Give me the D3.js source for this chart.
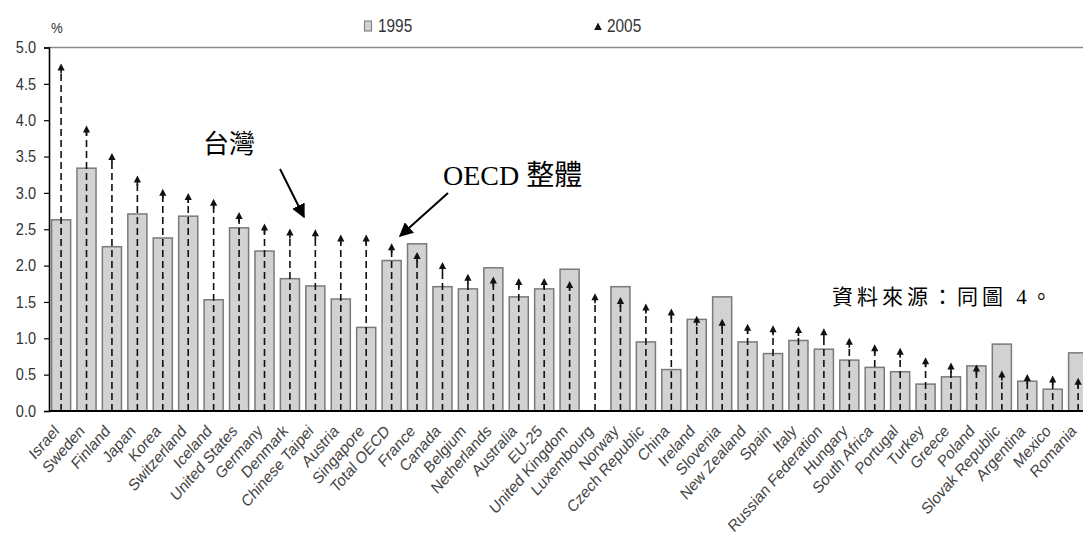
<!DOCTYPE html>
<html>
<head>
<meta charset="utf-8">
<script src="https://cdn.jsdelivr.net/npm/d3@7"></script>
<style>
  html, body { margin: 0; padding: 0; background: #fff; }
  svg { display: block; }
</style>
</head>
<body>
<svg id="chart" width="1083" height="552"></svg>
<script>
// GERD as a percentage of GDP, 1995 vs 2005
const countries = ["Israel","Sweden","Finland","Japan","Korea","Switzerland","Iceland","United States","Germany","Denmark","Chinese Taipei","Austria","Singapore","Total OECD","France","Canada","Belgium","Netherlands","Australia","EU-25","United Kingdom","Luxembourg","Norway","Czech Republic","China","Ireland","Slovenia","New Zealand","Spain","Italy","Russian Federation","Hungary","South Africa","Portugal","Turkey","Greece","Poland","Slovak Republic","Argentina","Mexico","Romania"];
const values1995 = [2.63,3.34,2.26,2.71,2.38,2.68,1.53,2.52,2.20,1.82,1.72,1.54,1.15,2.07,2.30,1.71,1.68,1.97,1.57,1.68,1.95,null,1.71,0.95,0.57,1.26,1.57,0.95,0.79,0.97,0.85,0.70,0.60,0.54,0.37,0.47,0.62,0.92,0.41,0.30,0.80];
const values2005 = [4.71,3.86,3.48,3.17,2.99,2.93,2.85,2.67,2.51,2.44,2.43,2.36,2.36,2.24,2.12,1.98,1.82,1.78,1.76,1.76,1.72,1.55,1.50,1.41,1.34,1.24,1.20,1.13,1.11,1.10,1.07,0.94,0.85,0.80,0.67,0.60,0.57,0.49,0.44,0.42,0.39];
const yTicks = [0,0.5,1,1.5,2,2.5,3,3.5,4,4.5,5];
const legendLabels = ["1995", "2005"];

const svg = d3.select("#chart");
const plotLeft = 49, plotTop = 47.5, plotBottom = 411;
// chart text is set slightly condensed
const squeeze = 0.88;

const x = d3.scaleBand()
  .domain(countries)
  .range([48.5, 48.5 + countries.length * 25.42])
  .paddingInner(0.25)
  .paddingOuter(0.12);

const y = d3.scaleLinear().domain([0, 5]).range([plotBottom, plotTop]);

const sans = "Arial, 'Liberation Sans', sans-serif";
const serif = "'Times New Roman', 'Liberation Serif', 'Noto Sans CJK TC', serif";

// frame top line
svg.append("line")
  .attr("x1", plotLeft).attr("x2", 1083)
  .attr("y1", plotTop).attr("y2", plotTop)
  .attr("stroke", "#8a8a8a").attr("stroke-width", 1.5);

// 1995 bars
svg.append("g").selectAll("rect")
  .data(countries.map((c, i) => ({ c, v: values1995[i] })).filter(d => d.v != null))
  .join("rect")
  .attr("x", d => x(d.c))
  .attr("width", x.bandwidth())
  .attr("y", d => y(d.v))
  .attr("height", d => plotBottom - y(d.v))
  .attr("fill", "#d2d2d2")
  .attr("stroke", "#7a7a7a")
  .attr("stroke-width", 1.5);

// 2005 dashed stems with arrow markers
const g05 = svg.append("g");
const data05 = countries.map((c, i) => ({ c, v: values2005[i] }));
g05.selectAll("line")
  .data(data05)
  .join("line")
  .attr("x1", d => x(d.c) + x.bandwidth() / 2)
  .attr("x2", d => x(d.c) + x.bandwidth() / 2)
  .attr("y1", plotBottom)
  .attr("y2", d => y(d.v))
  .attr("stroke", "#111")
  .attr("stroke-width", 1.6)
  .attr("stroke-dasharray", "7,4");
g05.selectAll("path")
  .data(data05)
  .join("path")
  .attr("transform", d => `translate(${x(d.c) + x.bandwidth() / 2},${y(d.v)})`)
  .attr("d", "M0,-5 L3.6,2 L-3.6,2 Z M-0.8,2 L0.8,2 L0.8,5 L-0.8,5 Z")
  .attr("fill", "#111");

// y axis
const yAxis = d3.axisLeft(y).tickValues(yTicks).tickFormat(d3.format(".1f")).tickSize(5);
const ya = svg.append("g").attr("transform", `translate(${plotLeft},0)`).call(yAxis);
ya.select(".domain").attr("stroke", "#000").attr("stroke-width", 1.6);
ya.selectAll(".tick line").attr("stroke", "#000").attr("stroke-width", 1.2);
ya.selectAll(".tick text")
  .attr("font-family", sans).attr("font-size", 16.5).attr("fill", "#333")
  .attr("x", -13 / squeeze)
  .attr("transform", `scale(${squeeze},1)`);

// x axis
const xAxis = d3.axisBottom(x).tickSize(0);
const xa = svg.append("g").attr("transform", `translate(0,${plotBottom})`).call(xAxis);
xa.select(".domain").attr("stroke", "#000").attr("stroke-width", 1.8).attr("d", `M${plotLeft},0H1083`);
xa.selectAll(".tick text")
  .attr("font-family", sans).attr("font-size", 16.5).attr("fill", "#444")
  .attr("text-anchor", "end")
  .attr("x", 0).attr("y", 0).attr("dy", 0)
  .attr("transform", `translate(-1,21) scale(${squeeze},1) rotate(-45)`);

// unit label
svg.append("text").attr("x", 51 / squeeze).attr("y", 33).text("%")
  .attr("transform", `scale(${squeeze},1)`)
  .attr("font-family", sans).attr("font-size", 15).attr("fill", "#333");

// legend
svg.append("rect").attr("x", 364.5).attr("y", 21).attr("width", 7).attr("height", 10)
  .attr("fill", "#d2d2d2").attr("stroke", "#777").attr("stroke-width", 1);
svg.append("text").attr("x", 378 / squeeze).attr("y", 32).text(legendLabels[0])
  .attr("transform", `scale(${squeeze},1)`)
  .attr("font-family", sans).attr("font-size", 17.5).attr("fill", "#333");
svg.append("path").attr("d", "M598,22.5 L601.8,30 L594.2,30 Z").attr("fill", "#111");
svg.append("text").attr("x", 607 / squeeze).attr("y", 32).text(legendLabels[1])
  .attr("transform", `scale(${squeeze},1)`)
  .attr("font-family", sans).attr("font-size", 17.5).attr("fill", "#333");

// annotations
svg.append("defs").append("marker")
  .attr("id", "arrowhead").attr("viewBox", "0 0 10 10")
  .attr("refX", 9).attr("refY", 5)
  .attr("markerWidth", 7).attr("markerHeight", 7)
  .attr("orient", "auto")
  .append("path").attr("d", "M0,0 L10,5 L0,10 Z").attr("fill", "#000");

svg.append("text").attr("x", 203).attr("y", 153).text("台灣")
  .attr("font-family", serif).attr("font-size", 26).attr("fill", "#000");
svg.append("line").attr("x1", 280).attr("y1", 169).attr("x2", 304).attr("y2", 217)
  .attr("stroke", "#000").attr("stroke-width", 2).attr("marker-end", "url(#arrowhead)");

svg.append("text").attr("x", 443).attr("y", 185).text("OECD 整體")
  .attr("font-family", serif).attr("font-size", 28).attr("fill", "#000");
svg.append("line").attr("x1", 448).attr("y1", 193).attr("x2", 400).attr("y2", 236)
  .attr("stroke", "#000").attr("stroke-width", 2).attr("marker-end", "url(#arrowhead)");

svg.append("text").attr("x", 832).attr("y", 304).text("資料來源：同圖 4。")
  .attr("font-family", serif).attr("font-size", 21).attr("letter-spacing", 4).attr("fill", "#000");
</script>
</body>
</html>
